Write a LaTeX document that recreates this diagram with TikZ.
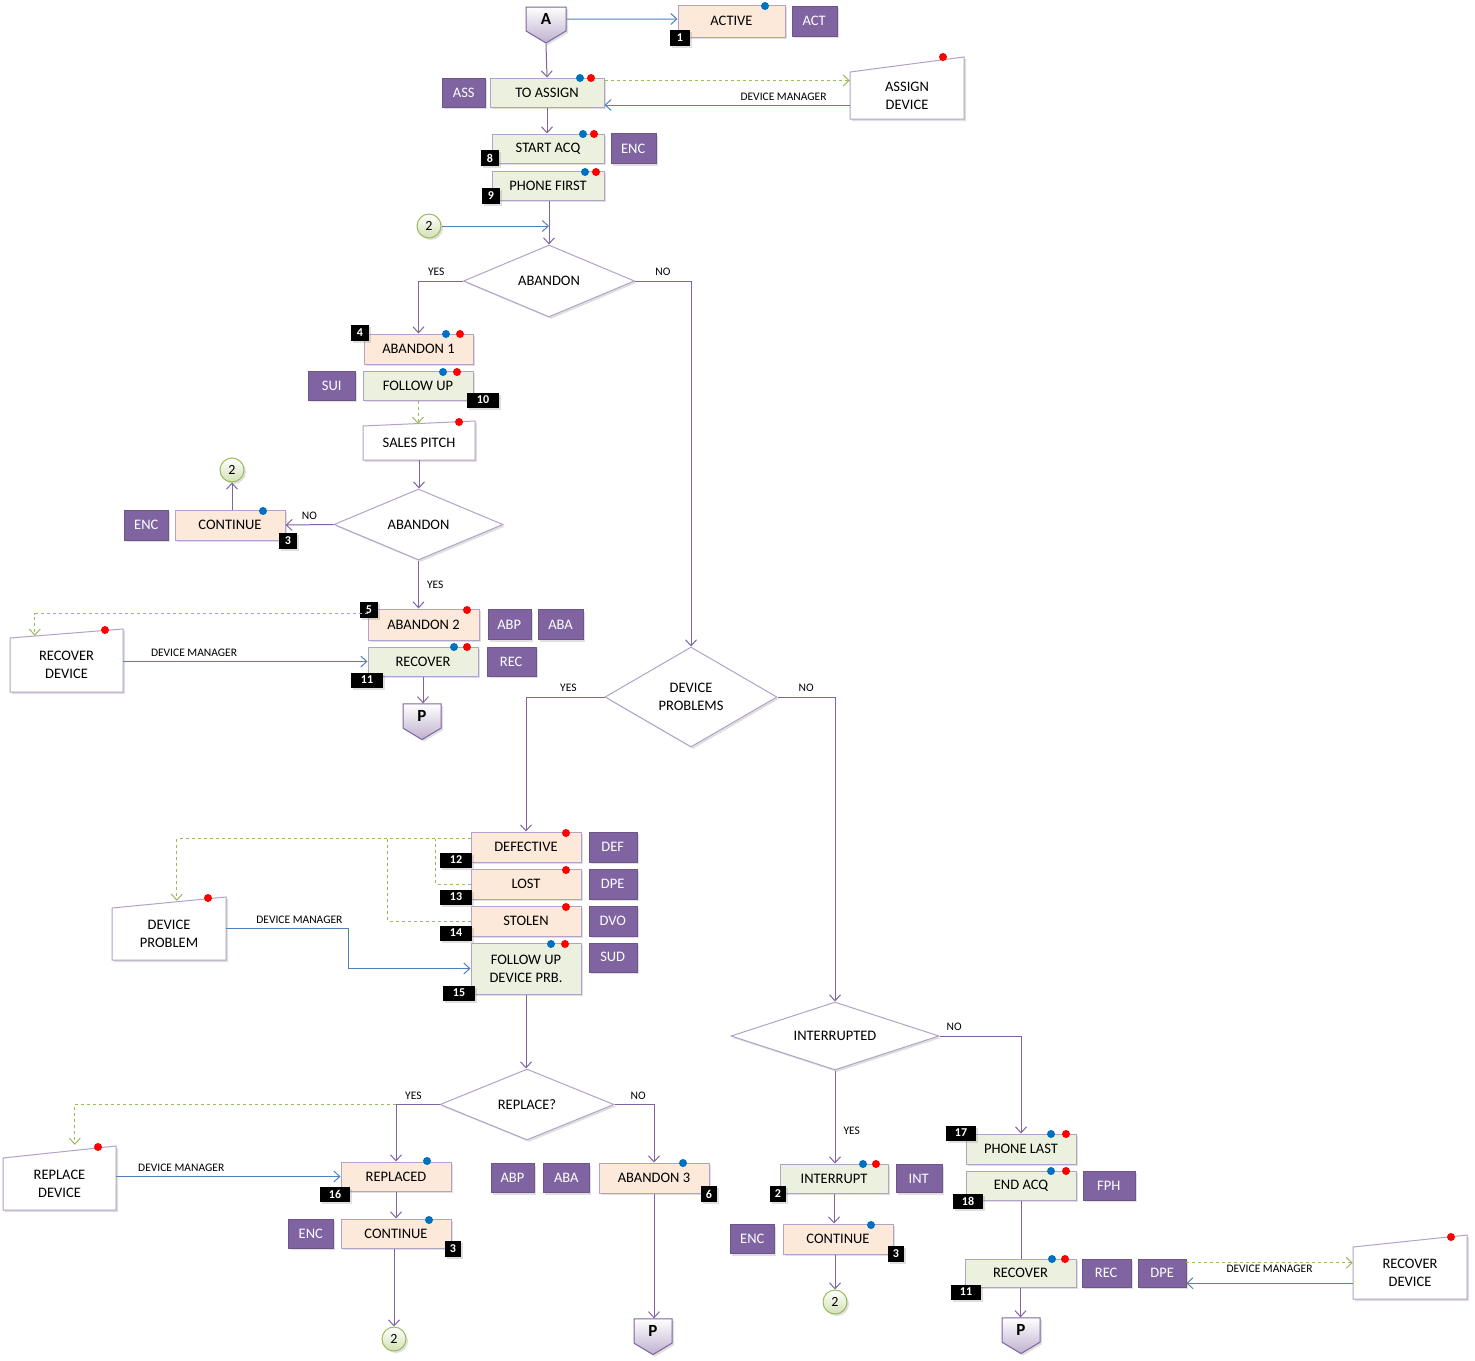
\documentclass[tikz,border=0pt]{standalone}
\usepackage{fontspec}
\setmainfont{Carlito}
\usetikzlibrary{positioning,shapes.geometric,shapes.symbols,arrows.meta,shadows}

\definecolor{flowpurple}{HTML}{8064A2}
\definecolor{linkblue}{HTML}{4F81BD}
\definecolor{dashgreen}{HTML}{9BBB59}
\definecolor{peach}{HTML}{FDE9D9}
\definecolor{palegreen}{HTML}{EBF1DE}
\definecolor{lilac}{HTML}{B3A2C7}
\definecolor{dotblue}{HTML}{0070C0}

\tikzset{
  shadowed/.style={drop shadow={shadow xshift=2pt,shadow yshift=-2pt,opacity=0.25}},
  statebox/.style={rectangle,draw=lilac,line width=1pt,shadowed,minimum width=110pt,minimum height=30pt,inner sep=0pt,align=center,font=\fontsize{14.5}{18}\selectfont},
  peachbox/.style={statebox,fill=peach},
  greenbox/.style={statebox,fill=palegreen},
  tagbox/.style={rectangle,fill=flowpurple,draw=flowpurple!85!black,text=white,shadowed,minimum width=45pt,minimum height=30pt,inner sep=0pt,font=\fontsize{14.5}{18}\selectfont},
  numbox/.style={rectangle,fill=black,text=white,shadowed,minimum width=18pt,minimum height=16pt,inner sep=0pt,font=\bfseries\fontsize{12}{12}\selectfont},
  decision/.style={diamond,draw=lilac,line width=1pt,fill=white,shadowed,inner sep=0pt,aspect=2.4,align=center,font=\fontsize{14.5}{18}\selectfont},
  manualbox/.style={draw=lilac,line width=1pt,fill=white,shadowed},
  manualtext/.style={rectangle,inner sep=0pt,align=center,font=\fontsize{14.5}{18}\selectfont},
  offpage/.style={signal,signal to=south,signal pointer angle=118,minimum width=40pt,minimum height=27pt,inner sep=0pt,draw=flowpurple,line width=1pt,top color=white,bottom color=lilac!85,shadowed,font=\bfseries\fontsize{17}{17}\selectfont},
  joint/.style={circle,draw=dashgreen,line width=1pt,top color=white,bottom color=dashgreen!45,shadowed,minimum size=24pt,inner sep=0pt,font=\fontsize{14}{14}\selectfont},
  flow/.style={draw=flowpurple,line width=1pt,->},
  manager/.style={draw=linkblue,line width=1pt,->},
  handoff/.style={draw=dashgreen,line width=1pt,dashed,->},
  note/.style={inner sep=0pt,font=\fontsize{11.5}{13}\selectfont},
  bluedot/.style={fill=dotblue},
  reddot/.style={fill=red}
}

\begin{document}
\begin{tikzpicture}[x=1pt,y=-1pt,>={Straight Barb[length=6pt,width=11pt]}]
 \useasboundingbox (0,0) rectangle (1475,1360);

 %Manual input shapes
 \filldraw[manualbox] (850,119) -- (850,72) -- (964,57) -- (964,119) -- cycle;
 \filldraw[manualbox] (363,460) -- (363,426) -- (475,421) -- (475,460) -- cycle;
 \filldraw[manualbox] (10,692) -- (10,638) -- (123,629) -- (123,692) -- cycle;
 \filldraw[manualbox] (112,960) -- (112,908) -- (226,897) -- (226,960) -- cycle;
 \filldraw[manualbox] (3,1210) -- (3,1158) -- (116,1146) -- (116,1210) -- cycle;
 \filldraw[manualbox] (1353,1299) -- (1353,1247) -- (1467,1235) -- (1467,1299) -- cycle;

 \node[manualtext,minimum width=114pt,minimum height=47pt] (assigndev) at (907,95.5) {ASSIGN\\DEVICE};
 \node[manualtext,minimum width=112pt,minimum height=34pt] (salespitch) at (419,443) {SALES PITCH};
 \node[manualtext,minimum width=113pt,minimum height=54pt] (recoverdev1) at (66.5,665) {RECOVER\\DEVICE};
 \node[manualtext,minimum width=114pt,minimum height=52pt] (devproblem) at (169,934) {DEVICE\\PROBLEM};
 \node[manualtext,minimum width=113pt,minimum height=52pt] (replacedev) at (59.5,1184) {REPLACE\\DEVICE};
 \node[manualtext,minimum width=114pt,minimum height=52pt] (recoverdev2) at (1410,1273) {RECOVER\\DEVICE};

 %Top
 \node[offpage] (A) at (546,19) {A};
 \node[peachbox,minimum width=107pt,minimum height=32pt] (active) at (731.5,21) {ACTIVE};
 \node[tagbox,right=6pt of active] (act) {ACT};
 \node[numbox,minimum width=20pt] (n1) at (680,38) {1};

 \node[greenbox,minimum width=114pt,minimum height=29pt] (toassign) at (547,92.5) {TO ASSIGN};
 \node[tagbox,left=4pt of toassign,minimum width=43pt,minimum height=29pt] (ass) {ASS};

 \node[greenbox,minimum width=112pt,minimum height=29pt] (startacq) at (548,148.5) {START ACQ};
 \node[tagbox,right=6pt of startacq] (enc1) {ENC};
 \node[numbox] (n8) at (490,158) {8};

 \node[greenbox,minimum width=112pt,minimum height=29pt] (phonefirst) at (548,185.5) {PHONE FIRST};
 \node[numbox] (n9) at (491,196) {9};

 \node[joint] (c2a) at (429,226) {2};
 \node[decision,minimum width=171pt,minimum height=72pt] (dabandon1) at (549,281) {ABANDON};

 %Abandon branch
 \node[peachbox,minimum width=109pt] (abandon1) at (418.5,349) {ABANDON 1};
 \node[numbox] (n4) at (360,333) {4};
 \node[greenbox,minimum height=29pt] (followup) at (418,385.5) {FOLLOW UP};
 \node[tagbox,left=7pt of followup,minimum width=47pt,minimum height=29pt] (sui) {SUI};
 \node[numbox,minimum width=32pt,minimum height=15pt] (n10) at (483,400) {10};

 \node[decision,minimum width=169pt,minimum height=71pt] (dabandon2) at (418.5,524.5) {ABANDON};
 \node[peachbox] (continue1) at (230,525) {CONTINUE};
 \node[tagbox,left=6pt of continue1,minimum width=44pt] (enc2) {ENC};
 \node[numbox] (n3a) at (288,541) {3};
 \node[joint] (c2b) at (232,470) {2};

 \node[peachbox,minimum width=111pt,minimum height=31pt] (abandon2) at (423.5,624.5) {ABANDON 2};
 \node[tagbox,right=8pt of abandon2,minimum width=43pt] (abp1) {ABP};
 \node[tagbox,right=7pt of abp1] (aba1) {ABA};
 \node[numbox] (n5) at (369,610) {5};
 \node[greenbox,minimum height=29pt] (recover1) at (423,661.5) {RECOVER};
 \node[tagbox,right=8pt of recover1,minimum width=49pt,minimum height=29pt] (rec1) {REC};
 \node[numbox,minimum width=32pt,minimum height=15pt] (n11a) at (367,680) {11};
 \node[offpage,minimum width=38pt] (P1) at (422,716) {P};

 %Device problems
 \node[decision,minimum width=172pt,minimum height=100pt] (ddevprob) at (691,697) {DEVICE\\PROBLEMS};

 \node[peachbox] (defective) at (526,847) {DEFECTIVE};
 \node[tagbox,right=7pt of defective,minimum width=48pt] (def) {DEF};
 \node[numbox,minimum width=32pt,minimum height=15pt] (n12) at (456,860) {12};
 \node[peachbox] (lost) at (526,884) {LOST};
 \node[tagbox,right=7pt of lost,minimum width=48pt] (dpe1) {DPE};
 \node[numbox,minimum width=32pt,minimum height=15pt] (n13) at (456,897) {13};
 \node[peachbox] (stolen) at (526,921) {STOLEN};
 \node[tagbox,right=7pt of stolen,minimum width=48pt] (dvo) {DVO};
 \node[numbox,minimum width=32pt,minimum height=15pt] (n14) at (456,933) {14};
 \node[greenbox,minimum height=51pt] (fupdev) at (526,968.5) {FOLLOW UP\\DEVICE PRB.};
 \node[tagbox,anchor=north west,minimum width=48pt,minimum height=29pt] (sud) at ([xshift=7pt]fupdev.north east) {SUD};
 \node[numbox,minimum width=32pt,minimum height=15pt] (n15) at (459,993) {15};

 %Replace
 \node[decision,minimum width=174pt,minimum height=71pt] (dreplace) at (527,1104.5) {REPLACE?};
 \node[peachbox,minimum height=29pt] (replaced) at (396,1176.5) {REPLACED};
 \node[numbox,minimum width=30pt,minimum height=15pt] (n16) at (335,1194) {16};
 \node[peachbox,minimum height=29pt] (continue2) at (396,1233.5) {CONTINUE};
 \node[tagbox,left=7pt of continue2,minimum height=29pt] (enc3) {ENC};
 \node[numbox,minimum width=16pt] (n3b) at (453,1249) {3};
 \node[joint] (c2c) at (394,1339) {2};

 \node[peachbox] (abandon3) at (654,1178) {ABANDON 3};
 \node[tagbox,left=9pt of abandon3,minimum width=46pt,minimum height=29pt] (aba2) {ABA};
 \node[tagbox,left=9pt of aba2,minimum width=43pt,minimum height=29pt] (abp2) {ABP};
 \node[numbox,minimum width=16pt] (n6) at (709,1194) {6};
 \node[offpage,minimum width=38pt] (P2) at (653,1331) {P};

 %Interrupted
 \node[decision,minimum width=208pt,minimum height=68pt] (dinterrupted) at (835,1036) {INTERRUPTED};
 \node[greenbox,minimum width=108pt,minimum height=29pt] (interrupt) at (834,1178.5) {INTERRUPT};
 \node[tagbox,right=7pt of interrupt,minimum width=46pt,minimum height=28pt] (int) {INT};
 \node[numbox,minimum width=16pt] (n2) at (778,1194) {2};
 \node[peachbox] (continue3) at (838,1239) {CONTINUE};
 \node[tagbox,left=8pt of continue3,minimum width=44pt,minimum height=29pt] (enc4) {ENC};
 \node[numbox,minimum width=16pt] (n3c) at (896,1254) {3};
 \node[joint] (c2d) at (835,1302) {2};

 \node[greenbox] (phonelast) at (1021,1149) {PHONE LAST};
 \node[numbox,minimum width=30pt,minimum height=15pt] (n17) at (961,1133) {17};
 \node[greenbox,minimum height=29pt] (endacq) at (1021,1185.5) {END ACQ};
 \node[tagbox,right=6pt of endacq,minimum width=52pt,minimum height=29pt] (fph) {FPH};
 \node[numbox,minimum width=30pt,minimum height=15pt] (n18) at (968,1201) {18};
 \node[greenbox,minimum width=111pt,minimum height=28pt] (recover2) at (1020.5,1273) {RECOVER};
 \node[tagbox,right=5pt of recover2,minimum width=49pt,minimum height=28pt] (rec2) {REC};
 \node[tagbox,right=7pt of rec2,minimum width=48pt,minimum height=28pt] (dpe2) {DPE};
 \node[numbox,minimum width=30pt,minimum height=15pt] (n11b) at (966,1292) {11};
 \node[offpage,minimum width=38pt] (P3) at (1021,1330) {P};

 %Connectors top
 \draw[manager] (A) -- (A -| active.west);
 \draw[flow] (A.south) -- (toassign.north);
 \draw[handoff] ([yshift=-3pt]toassign.north east) -- ([yshift=-3pt]toassign.north east -| assigndev.west);
 \draw[manager] ([yshift=-9.5pt]assigndev.west) -- node[note,above=4pt,pos=0.27] (dm1) {DEVICE MANAGER} ([yshift=-9.5pt]assigndev.west -| toassign.east);
 \draw[flow] (toassign.south) -- (toassign.south |- startacq.north);
 \draw[flow] (phonefirst.south -| dabandon1.north) -- (dabandon1.north);
 \draw[manager] (c2a) -- (c2a -| dabandon1.north);

 %Connectors abandon
 \draw[flow] (dabandon1.west) -| node[note,pos=0.3,above=5pt] (yes1) {YES} (abandon1.north);
 \draw[flow] (dabandon1.east) -| node[note,pos=0.25,above=5pt] (no1) {NO} (ddevprob.north);
 \draw[handoff] (followup.south) -- ([yshift=2pt]followup.south |- salespitch.north);
 \draw[flow] (salespitch.south) -- (salespitch.south |- dabandon2.north);
 \draw[flow] (dabandon2.west) -- node[note,above=5pt] (no2) {NO} (continue1.east);
 \draw[flow] (continue1.north -| c2b) -- (c2b);
 \draw[flow] (dabandon2.south) -- node[note,right=8pt] (yes2) {YES} (dabandon2.south |- abandon2.north);
 \draw[handoff] ([yshift=-5pt]abandon2.north west) -| ([xshift=25pt,yshift=2pt]recoverdev1.north west);
 \draw[manager] (recoverdev1.east |- recover1.west) -- node[note,above=4pt,pos=0.29] (dm2) {DEVICE MANAGER} (recover1.west);
 \draw[flow] (recover1.south) -- (recover1.south |- P1.north);

 %Connectors device problems
 \draw[flow] (ddevprob.west) -| node[note,pos=0.23,above=5pt] (yes3) {YES} (defective.north);
 \draw[flow] (ddevprob.east) -| node[note,pos=0.25,above=5pt] (no3) {NO} (dinterrupted.north);
 \draw[handoff] ([yshift=-7pt]defective.north west) -| ([xshift=65pt,yshift=7pt]devproblem.north west);
 \draw[handoff,-] (lost.west) -| ([xshift=-35pt,yshift=-7pt]defective.north west);
 \draw[handoff,-] (stolen.west) -| ([xshift=-83pt,yshift=-7pt]defective.north west);
 \draw[manager] ([yshift=6pt]devproblem.east) -- node[note,above=4pt,pos=0.6] (dm3) {DEVICE MANAGER} ++(122,0) |- (fupdev.west);
 \draw[flow] (fupdev.south) -- (fupdev.south |- dreplace.north);

 %Connectors replace
 \draw[flow] (dreplace.west) -| node[note,pos=0.3,above=4pt] (yes4) {YES} (replaced.north);
 \draw[handoff] (dreplace.west -| replaced.north) -| ([xshift=72pt,yshift=13pt]replacedev.north west);
 \draw[flow] (dreplace.east) -| node[note,pos=0.3,above=4pt] (no4) {NO} (abandon3.north);
 \draw[manager] (replacedev.east |- replaced.west) -- node[note,above=4pt,pos=0.29] (dm4) {DEVICE MANAGER} (replaced.west);
 \draw[flow] (replaced.south) -- (continue2.north);
 \draw[flow] (c2c |- continue2.south) -- (c2c);
 \draw[flow] (abandon3.south) -- (abandon3.south |- P2.north);

 %Connectors interrupted
 \draw[flow] (dinterrupted.south) -- node[note,pos=0.65,right=8pt] (yes5) {YES} (dinterrupted.south |- interrupt.north);
 \draw[flow] (dinterrupted.east) -| node[note,pos=0.09,above=5pt] (no5) {NO} (phonelast.north);
 \draw[flow] (interrupt.south) -- (interrupt.south |- continue3.north);
 \draw[flow] (c2d |- continue3.south) -- (c2d);
 \draw[flow,-] (endacq.south) -- (endacq.south |- recover2.north);
 \draw[flow] (recover2.south) -- (recover2.south |- P3.north);
 \draw[handoff] ([yshift=-4pt]dpe2.north east) -- node[note,below=2pt] (dm5) {DEVICE MANAGER} ([yshift=-4pt]dpe2.north east -| recoverdev2.west);
 \draw[manager] ([yshift=4pt]dpe2.south east -| recoverdev2.west) -- ([yshift=4pt]dpe2.south east);

 %Dots
 \fill[bluedot] (765,6) circle (4pt);
 \fill[bluedot] (580,78) circle (4pt); \fill[reddot] (591,78) circle (4pt);
 \fill[reddot] (943,57) circle (4pt);
 \fill[bluedot] (583,134) circle (4pt); \fill[reddot] (594,134) circle (4pt);
 \fill[bluedot] (585,172) circle (4pt); \fill[reddot] (596,172) circle (4pt);
 \fill[bluedot] (446,334) circle (4pt); \fill[reddot] (460,334) circle (4pt);
 \fill[bluedot] (443,372) circle (4pt); \fill[reddot] (457,372) circle (4pt);
 \fill[reddot] (459,422) circle (4pt);
 \fill[bluedot] (263,511) circle (4pt);
 \fill[reddot] (467,610) circle (4pt);
 \fill[bluedot] (454,647) circle (4pt); \fill[reddot] (467,647) circle (4pt);
 \fill[reddot] (105,630) circle (4pt);
 \fill[reddot] (566,833) circle (4pt);
 \fill[reddot] (566,870) circle (4pt);
 \fill[reddot] (566,907) circle (4pt);
 \fill[bluedot] (551,944) circle (4pt); \fill[reddot] (565,944) circle (4pt);
 \fill[reddot] (208,898) circle (4pt);
 \fill[reddot] (98,1147) circle (4pt);
 \fill[bluedot] (427,1161) circle (4pt);
 \fill[bluedot] (429,1220) circle (4pt);
 \fill[bluedot] (683,1163) circle (4pt);
 \fill[bluedot] (863,1164) circle (4pt); \fill[reddot] (876,1164) circle (4pt);
 \fill[bluedot] (871,1225) circle (4pt);
 \fill[bluedot] (1051,1134) circle (4pt); \fill[reddot] (1066,1134) circle (4pt);
 \fill[bluedot] (1051,1171) circle (4pt); \fill[reddot] (1066,1171) circle (4pt);
 \fill[bluedot] (1052,1259) circle (4pt); \fill[reddot] (1065,1259) circle (4pt);
 \fill[reddot] (1451,1237) circle (4pt);
\end{tikzpicture}
\end{document}
